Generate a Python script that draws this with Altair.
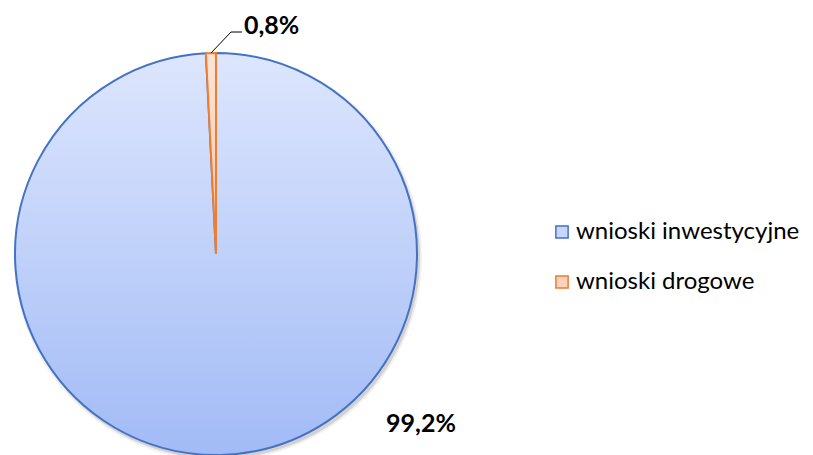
import altair as alt
import pandas as pd

categories = ["wnioski inwestycyjne", "wnioski drogowe"]
shares = [99.2, 0.8]
labels = ["99,2%", "0,8%"]
stroke_colors = ["#4472c4", "#ed7d31"]
legend_fills = ["#c9d6fb", "#fcd2bb"]

df = pd.DataFrame({"cat": categories, "share": shares, "label": labels})
df["end"] = df["share"].cumsum()
df["start"] = df["end"] - df["share"]

W, H = 796, 447
cx, cy, R = 208, 246, 201
FONT = "Lato"
TWO_PI = 6.283185307179586

theta_scale = alt.Scale(domain=[0, 100], range=[0, TWO_PI])


def grad(c_top, c_bot):
    return alt.LinearGradient(
        gradient="linear",
        stops=[alt.GradientStop(color=c_top, offset=0), alt.GradientStop(color=c_bot, offset=1)],
        x1=0, x2=0, y1=0, y2=1,
    )


def slice_layer(cat, fill, stroke):
    return (
        alt.Chart(df)
        .transform_filter(alt.datum.cat == cat)
        .mark_arc(radius=R, fill=fill, stroke=stroke, strokeWidth=2)
        .encode(
            theta=alt.Theta("start:Q", scale=theta_scale, stack=None),
            theta2="end:Q",
            x=alt.value(cx),
            y=alt.value(cy),
        )
    )


def shadow_layer(dr, dx, dy, op):
    return (
        alt.Chart(df)
        .transform_filter(alt.datum.cat == categories[0])
        .mark_arc(radius=R + dr, theta=0, theta2=TWO_PI, fill="#000000", opacity=op)
        .encode(x=alt.value(cx + dx), y=alt.value(cy + dy))
    )


shadow1 = shadow_layer(3, 2, 3, 0.06)
shadow2 = shadow_layer(1, 2, 3, 0.12)

blue = slice_layer(categories[0], grad("#dde6fd", "#a2bbf6"), stroke_colors[0])
orange = slice_layer(categories[1], grad("#fde4d6", "#f9c4a4"), stroke_colors[1])

lbl_small = (
    alt.Chart(df)
    .transform_filter(alt.datum.cat == categories[1])
    .mark_text(font=FONT, fontSize=25, fontWeight="bold", align="left", baseline="middle", color="#000000")
    .encode(text="label:N", x=alt.value(236), y=alt.value(18))
)
lbl_big = (
    alt.Chart(df)
    .transform_filter(alt.datum.cat == categories[0])
    .mark_text(font=FONT, fontSize=25, fontWeight="bold", align="center", baseline="middle", color="#000000")
    .encode(text="label:N", x=alt.value(413), y=alt.value(416))
)

leader1 = alt.Chart(df).transform_filter(alt.datum.cat == categories[1]).mark_rule(color="#000000", strokeWidth=1).encode(
    x=alt.value(203), y=alt.value(45), x2=alt.value(223), y2=alt.value(24)
)
leader2 = alt.Chart(df).transform_filter(alt.datum.cat == categories[1]).mark_rule(color="#000000", strokeWidth=1).encode(
    x=alt.value(223), y=alt.value(24), x2=alt.value(234), y2=alt.value(24)
)

leg_y = alt.Y("cat:N", scale=alt.Scale(type="point", domain=categories, range=[224, 274], padding=0), axis=None)
leg_sq = (
    alt.Chart(df)
    .mark_square(size=150, opacity=1, strokeWidth=1.5, filled=True)
    .encode(
        x=alt.value(554),
        y=leg_y,
        fill=alt.Color("cat:N", scale=alt.Scale(domain=categories, range=legend_fills), legend=None),
        stroke=alt.Stroke("cat:N", scale=alt.Scale(domain=categories, range=stroke_colors), legend=None),
    )
)
leg_txt = (
    alt.Chart(df)
    .mark_text(font=FONT, fontSize=24, align="left", baseline="middle", color="#000000")
    .encode(x=alt.value(568), y=leg_y, text="cat:N")
)

chart = (
    alt.layer(shadow1, shadow2, blue, orange, leader1, leader2, lbl_small, lbl_big, leg_sq, leg_txt)
    .resolve_scale(theta="shared", y="shared")
    .properties(width=W, height=H, autosize=alt.AutoSizeParams(type="none"), padding=0)
    .configure_view(strokeOpacity=0, strokeWidth=0)
)

chart.save("out.html", embed_options={"renderer": "svg", "actions": False})
